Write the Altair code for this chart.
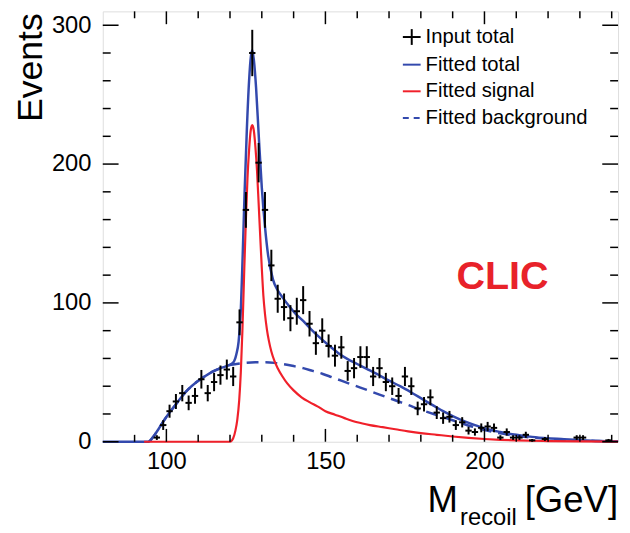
import altair as alt
import pandas as pd

# ---------------- data ----------------
bin_centers = [97, 99, 101, 103, 105, 107, 109, 111, 113, 115,
               117, 119, 121, 123, 125, 127, 129, 131, 133, 135,
               137, 139, 141, 143, 145, 147, 149, 151, 153, 155,
               157, 159, 161, 163, 165, 167, 169, 171, 173, 175,
               177, 179, 181, 183, 185, 187, 189, 191, 193, 195,
               197, 199, 201, 203, 205, 207, 209, 211, 213,
               215, 219, 229, 231, 239]
events = [3, 12, 22, 29, 35, 28, 33, 45, 35, 43,
          48, 52, 47, 86, 167, 280, 201, 167, 127, 103,
          97, 89, 94, 102, 85, 71, 80, 69, 62, 68,
          51, 53, 61, 61, 47, 53, 43, 40, 33, 47,
          40, 24, 27, 32, 21, 17, 18, 12, 14, 8,
          7, 10, 11, 10, 3, 7, 3, 3, 5,
          1, 2, 3, 3, 1]
errors = [1.7, 3.5, 4.7, 5.4, 5.9, 5.3, 5.7, 6.7, 5.9, 6.6,
          6.9, 7.2, 6.9, 9.3, 12.9, 16.7, 14.2, 12.9, 11.3, 10.1,
          9.8, 9.4, 9.7, 10.1, 9.2, 8.4, 8.9, 8.3, 7.9, 8.2,
          7.1, 7.3, 7.8, 7.8, 6.9, 7.3, 6.6, 6.3, 5.7, 6.9,
          6.3, 4.9, 5.2, 5.7, 4.6, 4.1, 4.2, 3.5, 3.7, 2.8,
          2.6, 3.2, 3.3, 3.2, 1.7, 2.6, 1.7, 1.7, 2.2,
          1.0, 1.4, 1.7, 1.7, 1.0]
bin_half_width = 1.0

total_x = [80, 94.5, 96, 97.5, 99, 101, 103, 105, 107, 109.5, 112, 114.5, 117, 119.5,
           121, 122, 122.7, 123.3, 124, 124.6, 125.3, 126, 126.6, 127, 127.5, 128.2,
           129, 130, 131, 132, 133.5, 135, 136.5, 138.5, 140.5, 143, 145.5, 148, 151,
           154, 157, 160, 163, 166, 170, 173.5, 177, 181, 184, 187, 190, 194, 197,
           201, 205, 210, 215, 220, 225, 230, 236, 242]
total_y = [0, 0, 4, 9, 14.5, 21, 27, 33, 38, 43, 47, 50.5, 53, 55,
           57, 63, 72, 90, 135, 180, 225, 260, 278, 282, 275, 255,
           222, 183, 155, 134, 117, 109, 104, 98, 92.5, 87, 81, 75.5, 69.5,
           64, 59.5, 56, 52.5, 49, 44, 40, 35.5, 30, 26, 22, 18.5, 14.5, 12,
           9, 7, 5, 3.5, 2.5, 1.8, 1.2, 0.6, 0.3]

signal_x = [93, 120, 121, 121.7, 122.3, 122.9, 123.4, 123.9, 124.5, 125, 125.5, 126,
            126.5, 127, 127.5, 128, 128.5, 129, 129.5, 130, 130.5, 131, 131.6, 132.2,
            133, 134, 135, 136.5, 138, 140, 142.5, 145, 147.5, 150, 153, 156, 160,
            164, 168, 172, 176, 180, 185, 190, 195, 200, 205, 210, 220, 230, 242]
signal_y = [0, 0, 2.5, 8, 16, 30, 50, 80, 125, 160, 190, 210,
            224, 228, 224, 212, 195, 172, 148, 125, 105, 92, 81, 73,
            65, 58, 53, 47, 42, 37, 32, 28.5, 25.5, 22, 19.5, 17, 14,
            12, 10.5, 9, 7.5, 6.2, 5, 3.8, 2.8, 2, 1.4, 1, 0.5, 0.25, 0.1]

bkg_x = [94.5, 96, 97.5, 99, 101, 103, 105, 107, 109.5, 112, 114.5, 117, 119.5, 122,
         125, 128, 131, 134, 137, 140, 143, 146, 149, 152, 155, 158, 161, 164, 167,
         170, 173, 176, 180, 184, 188, 192, 196, 200, 205, 210, 215, 220, 225, 230,
         236, 242]
bkg_y = [0, 4, 9, 14.5, 21, 27, 33, 38, 43, 47, 50.5, 53, 55, 56,
         56.8, 57.2, 57.2, 56.8, 55.8, 54.5, 53, 51, 49, 46.5, 44, 41.5, 39, 36.5, 34,
         31.5, 29, 26.5, 23, 20, 17, 14, 11, 8.5, 6, 4.2, 3, 2, 1.3, 0.9,
         0.5, 0.3]

x_major = [100, 150, 200]
x_minor = [90, 110, 120, 130, 140, 160, 170, 180, 190, 210, 220, 230, 240]
y_major = [0, 100, 200, 300]
y_minor = [20, 40, 60, 80, 120, 140, 160, 180, 220, 240, 260, 280]

legend_labels = ["Input total", "Fitted total", "Fitted signal", "Fitted background"]

# ---------------- style ----------------
W, H = 522, 436
FONT = "Liberation Sans"
BLUE = "#3349ad"
RED = "#f0202a"
xscale = alt.Scale(domain=[80, 242], nice=False, zero=False)
yscale = alt.Scale(domain=[0, 310], nice=False, zero=False)
xaxis = alt.Axis(values=x_major, ticks=False, tickSize=0, domain=False, grid=False,
                 labelFontSize=24, labelFont=FONT, labelColor="black", labelPadding=8,
                 title=None, format="d")
yaxis = alt.Axis(values=y_major, ticks=False, tickSize=0, domain=False, grid=False,
                 labelFontSize=24, labelFont=FONT, labelColor="black", labelPadding=12,
                 title=None, format="d")


def X(f):
    return alt.X(f, type="quantitative", scale=xscale, axis=xaxis)


def Y(f):
    return alt.Y(f, type="quantitative", scale=yscale, axis=yaxis)


# ---------------- tables ----------------
pts = pd.DataFrame({"x": bin_centers, "n": events, "e": errors})
pts["lo"] = pts["n"] - pts["e"]
pts["hi"] = pts["n"] + pts["e"]
pts["xl"] = pts["x"] - bin_half_width
pts["xh"] = pts["x"] + bin_half_width

df_total = pd.DataFrame({"x": total_x, "y": total_y})
df_sig = pd.DataFrame({"x": signal_x, "y": signal_y})
df_bkg = pd.DataFrame({"x": bkg_x, "y": bkg_y})

one = pd.DataFrame({"a": [0]})

# ---------------- curves ----------------
total_line = alt.Chart(df_total).mark_line(color=BLUE, strokeWidth=2.5, interpolate="monotone").encode(
    x=X("x"), y=Y("y"))
bkg_line = alt.Chart(df_bkg).mark_line(color=BLUE, strokeWidth=2.5, strokeDash=[12, 7],
                                       interpolate="monotone").encode(x=X("x"), y=Y("y"))
sig_line = alt.Chart(df_sig).mark_line(color=RED, strokeWidth=2.2, interpolate="monotone").encode(
    x=X("x"), y=Y("y"))

# ---------------- data crosses ----------------
vbars = alt.Chart(pts).mark_rule(color="black", strokeWidth=2).encode(
    x=X("x"), y=Y("lo"), y2="hi")
hbars = alt.Chart(pts).mark_rule(color="black", strokeWidth=2).encode(
    x=X("xl"), x2="xh", y=Y("n"))

# ---------------- frame ticks (inward) ----------------
def yticks(vals, length):
    d = pd.DataFrame({"v": vals})
    left = alt.Chart(d).mark_rule(color="black", strokeWidth=1.5).encode(
        y=Y("v"), x=alt.value(0), x2=alt.value(length))
    right = alt.Chart(d).mark_rule(color="black", strokeWidth=1.5).encode(
        y=Y("v"), x=alt.value(W), x2=alt.value(W - length))
    return [left, right]


def xticks(vals, length):
    d = pd.DataFrame({"v": vals})
    bottom = alt.Chart(d).mark_rule(color="black", strokeWidth=1.5).encode(
        x=X("v"), y=alt.value(H), y2=alt.value(H - length))
    top = alt.Chart(d).mark_rule(color="black", strokeWidth=1.5).encode(
        x=X("v"), y=alt.value(0), y2=alt.value(length))
    return [bottom, top]


tick_layers = yticks(y_major, 16) + yticks(y_minor, 8) + xticks(x_major, 13) + xticks(x_minor, 7)


# ---------------- legend & texts ----------------
def text(label, x, y, size, color="black", align="left", baseline="middle", weight="normal", angle=0):
    return alt.Chart(one).mark_text(text=label, fontSize=size, font=FONT, color=color, align=align,
                                    baseline=baseline, fontWeight=weight, angle=angle).encode(
        x=alt.value(x), y=alt.value(y))


def seg(x1, x2, y1, y2, color, width=2, dash=None):
    kw = dict(color=color, strokeWidth=width)
    if dash:
        kw["strokeDash"] = dash
    return alt.Chart(one).mark_rule(**kw).encode(
        x=alt.value(x1), x2=alt.value(x2), y=alt.value(y1), y2=alt.value(y2))


leg_y = [26, 54, 81, 108]
legend = [
    seg(304, 322, leg_y[0], leg_y[0], "black", 2),
    seg(313, 313, leg_y[0] - 8, leg_y[0] + 8, "black", 2),
    seg(304, 322, leg_y[1], leg_y[1], BLUE, 2),
    seg(304, 322, leg_y[2], leg_y[2], RED, 2),
    seg(304, 322, leg_y[3], leg_y[3], BLUE, 2, [6, 5]),
]
for lab, yy in zip(legend_labels, leg_y):
    legend.append(text(lab, 327, yy, 20.5))

clic = text("CLIC", 405, 281, 40, color="#e8222a", align="center", baseline="alphabetic", weight="bold")
ytitle = text("Events", -73, 2, 36, align="right", baseline="middle", angle=270)
xt_m = text("M", 329, 507, 37, baseline="alphabetic")
xt_sub = text("recoil", 362, 520, 24, baseline="alphabetic")
xt_gev = text("[GeV]", 522, 507, 37, align="right", baseline="alphabetic")

chart = alt.layer(
    total_line, bkg_line, sig_line, vbars, hbars,
    *tick_layers, *legend, clic, ytitle, xt_m, xt_sub, xt_gev
).properties(
    width=W, height=H,
    autosize=alt.AutoSizeParams(type="none"),
    padding={"left": 96, "top": 0, "right": 4, "bottom": 85},
).configure_view(stroke="black", strokeWidth=1.5).configure(background="white")

chart.save("out.html", embed_options={"renderer": "svg", "actions": False})
